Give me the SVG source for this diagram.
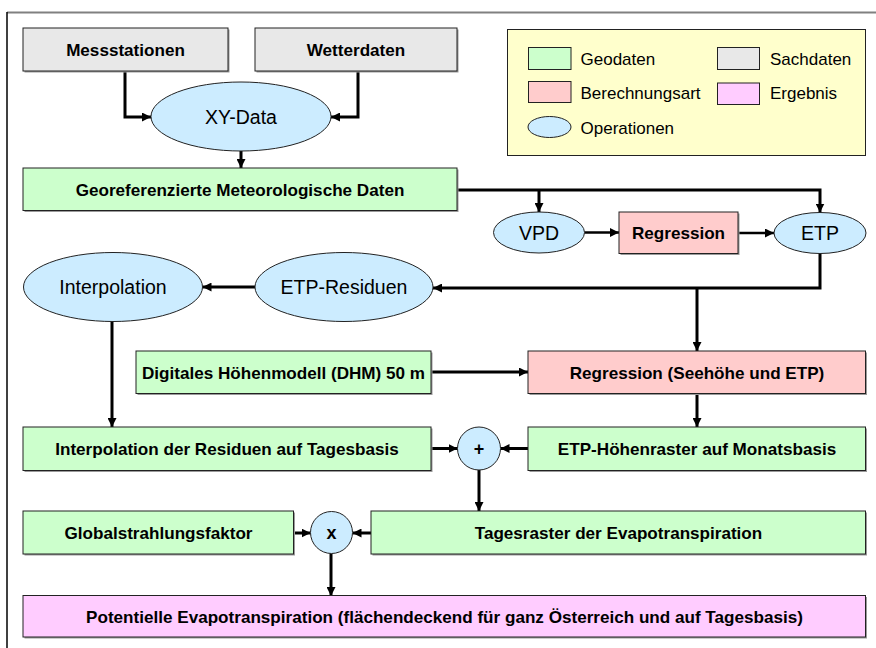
<svg xmlns="http://www.w3.org/2000/svg" width="876" height="648" viewBox="0 0 876 648">
<defs>
<marker id="ah" markerUnits="userSpaceOnUse" markerWidth="9" markerHeight="9" refX="9" refY="4.5" orient="auto"><path d="M0,0 L9,4.5 L0,9 z" fill="#000"/></marker>
<style>
.box{stroke:#222;stroke-width:1}
.sh{fill:#9a9a9a}
.geo{fill:#CCFFCC}
.sach{fill:#E8E8E8}
.ber{fill:#FFCCCC}
.erg{fill:#FFCCFF}
.op{fill:#CCECFF;stroke:#222;stroke-width:1}
.b{font-family:"Liberation Sans",Arial,sans-serif;font-weight:bold;font-size:17.1px;fill:#000;text-anchor:middle}
.r{font-family:"Liberation Sans",Arial,sans-serif;font-size:19.5px;fill:#000;text-anchor:middle}
.l{font-family:"Liberation Sans",Arial,sans-serif;font-size:17px;fill:#000}
.c{fill:none;stroke:#000;stroke-width:3;marker-end:url(#ah)}
</style>
</defs>
<rect width="876" height="648" fill="#fff"/>
<line x1="7" y1="12.5" x2="876" y2="12.5" stroke="#808080" stroke-width="2"/>
<line x1="7" y1="12" x2="7" y2="648" stroke="#000" stroke-width="1.5"/>

<g id="legend">
<rect x="507.5" y="29.5" width="358" height="126" fill="#FFFFCC" stroke="#222" stroke-width="1"/>
<rect x="528.5" y="47.5" width="42.5" height="22" class="box geo"/>
<text x="580.5" y="65" class="l">Geodaten</text>
<rect x="717.5" y="47.5" width="42" height="22" class="box sach"/>
<text x="770" y="65" class="l">Sachdaten</text>
<rect x="528.5" y="81.5" width="42.5" height="21" class="box ber"/>
<text x="580.5" y="99" class="l">Berechnungsart</text>
<rect x="717.5" y="83" width="42" height="21.5" class="box erg"/>
<text x="770" y="99" class="l">Ergebnis</text>
<ellipse cx="549.5" cy="127" rx="21.5" ry="10.5" class="op"/>
<text x="580.5" y="134" class="l">Operationen</text>
</g>

<g id="connectors">
<path d="M125 71 V117 H151" class="c"/>
<path d="M358 71 V117 H331" class="c"/>
<path d="M241 151 V168" class="c"/>
<path d="M457 190 H820 V212.5" class="c"/>
<path d="M539 190 V212" class="c"/>
<path d="M584.5 232.5 H619" class="c" style="stroke-width:2.5"/>
<path d="M738 233 H774" class="c" style="stroke-width:2.5"/>
<path d="M820 253.5 V288 H433" class="c"/>
<path d="M697 288 V351" class="c"/>
<path d="M255 287 H202.5" class="c"/>
<path d="M112 321.5 V427" class="c"/>
<path d="M431 372 H528" class="c"/>
<path d="M697 393 V427" class="c"/>
<path d="M431 448.5 H457.5" class="c"/>
<path d="M528 448.5 H500.5" class="c"/>
<path d="M479 470 V511" class="c"/>
<path d="M294 533 H310.5" class="c"/>
<path d="M371 533 H352.5" class="c"/>
<path d="M331 553.5 V596" class="c"/>
</g>

<g id="messstationen">
<rect x="24.5" y="29.5" width="205" height="43" class="sh"/>
<rect x="23" y="28" width="205" height="43" class="box sach"/>
<text x="125.5" y="55.5" class="b">Messstationen</text>
</g>
<g id="wetterdaten">
<rect x="256.5" y="29.5" width="202" height="43" class="sh"/>
<rect x="255" y="28" width="202" height="43" class="box sach"/>
<text x="356" y="55.5" class="b">Wetterdaten</text>
</g>
<g id="xydata">
<ellipse cx="241" cy="116.5" rx="90" ry="34.5" class="op"/>
<text x="241" y="123.5" class="r">XY-Data</text>
</g>
<g id="georef">
<rect x="24.5" y="169.5" width="434" height="42.5" class="sh"/>
<rect x="23" y="168" width="434" height="42.5" class="box geo"/>
<text x="240" y="195.5" class="b">Georeferenzierte Meteorologische Daten</text>
</g>
<g id="vpd">
<ellipse cx="539" cy="232.5" rx="45.5" ry="20.5" class="op"/>
<text x="539" y="239.5" class="r">VPD</text>
</g>
<g id="regression1">
<rect x="620.5" y="213.5" width="119" height="41.5" class="sh"/>
<rect x="619" y="212" width="119" height="41.5" class="box ber"/>
<text x="678.5" y="239" class="b">Regression</text>
</g>
<g id="etp">
<ellipse cx="820" cy="233" rx="46" ry="20.5" class="op"/>
<text x="820" y="240" class="r">ETP</text>
</g>
<g id="interpolation">
<ellipse cx="113" cy="287" rx="89.5" ry="34.5" class="op"/>
<text x="113" y="294" class="r">Interpolation</text>
</g>
<g id="etpresiduen">
<ellipse cx="344" cy="287" rx="89" ry="34.5" class="op"/>
<text x="344" y="294" class="r">ETP-Residuen</text>
</g>
<g id="dhm">
<rect x="137.5" y="352.5" width="295" height="42.5" class="sh"/>
<rect x="136" y="351" width="295" height="42.5" class="box geo"/>
<text x="283.5" y="378.5" class="b">Digitales Höhenmodell (DHM) 50 m</text>
</g>
<g id="regression2">
<rect x="529.5" y="352.5" width="337.5" height="42.5" class="sh"/>
<rect x="528" y="351" width="337.5" height="42.5" class="box ber"/>
<text x="697" y="378.5" class="b">Regression (Seehöhe und ETP)</text>
</g>
<g id="interpres">
<rect x="24.5" y="428.5" width="408" height="43.5" class="sh"/>
<rect x="23" y="427" width="408" height="43.5" class="box geo"/>
<text x="227" y="455" class="b">Interpolation der Residuen auf Tagesbasis</text>
</g>
<g id="plus">
<circle cx="479" cy="448.5" r="21.5" class="op"/>
<text x="479" y="455" class="b" style="font-size:18px">+</text>
</g>
<g id="etphoehen">
<rect x="529.5" y="428.5" width="337.5" height="43.5" class="sh"/>
<rect x="528" y="427" width="337.5" height="43.5" class="box geo"/>
<text x="697" y="455" class="b">ETP-Höhenraster auf Monatsbasis</text>
</g>
<g id="global">
<rect x="24.5" y="512.5" width="270.5" height="43" class="sh"/>
<rect x="23" y="511" width="270.5" height="43" class="box geo"/>
<text x="158.5" y="538.5" class="b">Globalstrahlungsfaktor</text>
</g>
<g id="mult">
<circle cx="331.5" cy="532.5" r="21" class="op"/>
<text x="331.5" y="539" class="b" style="font-size:18px">x</text>
</g>
<g id="tagesraster">
<rect x="372.5" y="512.5" width="494.5" height="43" class="sh"/>
<rect x="371" y="511" width="494.5" height="43" class="box geo"/>
<text x="618.5" y="538.5" class="b">Tagesraster der Evapotranspiration</text>
</g>
<g id="potentielle">
<rect x="24.5" y="597" width="842.5" height="41.5" class="sh"/>
<rect x="23" y="595.5" width="842.5" height="41.5" class="box erg"/>
<text x="444.5" y="622.5" class="b">Potentielle Evapotranspiration (flächendeckend für ganz Österreich und auf Tagesbasis)</text>
</g>
</svg>
